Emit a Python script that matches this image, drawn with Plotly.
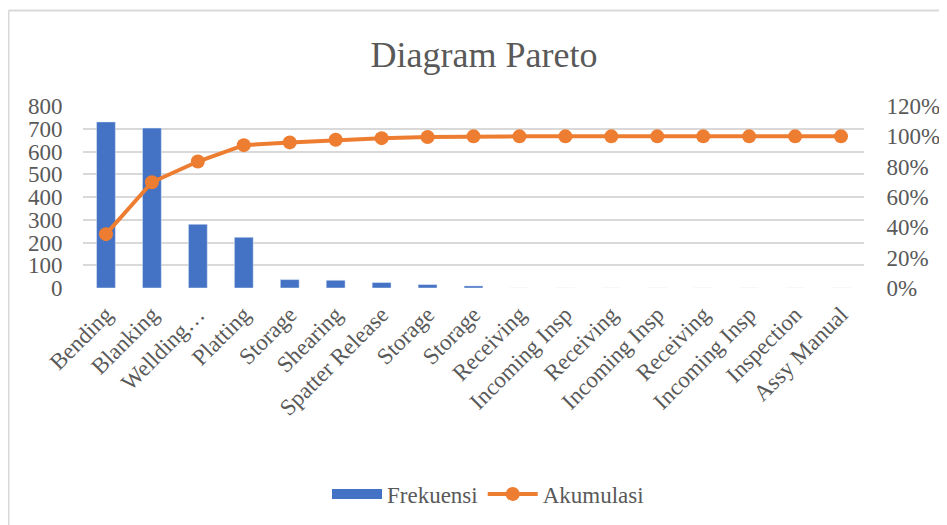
import plotly.graph_objects as go

categories = ["Bending", "Blanking", "Wellding…", "Platting", "Storage", "Shearing",
              "Spatter Release", "Storage", "Storage", "Receiving", "Incoming Insp",
              "Receiving", "Incoming Insp", "Receiving", "Incoming Insp", "Inspection",
              "Assy Manual"]
frekuensi = [730, 703, 280, 223, 37, 34, 24, 15, 9, 0, 0, 0, 0, 0, 0, 0, 0]
akumulasi = [0.355, 0.697, 0.834, 0.942, 0.960, 0.977, 0.988, 0.996, 1.0,
             1.0, 1.0, 1.0, 1.0, 1.0, 1.0, 1.0, 1.0]
left_ticks = [0, 100, 200, 300, 400, 500, 600, 700, 800]
right_ticks = [0, 0.2, 0.4, 0.6, 0.8, 1.0, 1.2]
right_labels = ["0%", "20%", "40%", "60%", "80%", "100%", "120%"]

x = list(range(len(categories)))
FONT = "Liberation Serif, Times New Roman, DejaVu Serif, serif"
GRAY = "#595959"
BLUE = "#4472C4"
ORANGE = "#ED7D31"

W, H = 939, 517
ML, MR, MT, MB = 75, 83, 98, 237
PW = W - ML - MR
PH = H - MT - MB

fig = go.Figure()
fig.add_trace(go.Bar(x=x, y=frekuensi, name="Frekuensi", marker_color=BLUE,
                     width=0.41, yaxis="y", showlegend=False))
# legend entry drawn as a thick line so it looks like the wide rectangle swatch
fig.add_trace(go.Scatter(x=[None], y=[None], name="Frekuensi", mode="lines",
                         line=dict(color=BLUE, width=12), yaxis="y"))
fig.add_trace(go.Scatter(x=x, y=akumulasi, name="Akumulasi", mode="lines+markers",
                         line=dict(color=ORANGE, width=4),
                         marker=dict(color=ORANGE, size=14), yaxis="y2"))

fig.update_layout(
    width=W, height=H,
    margin=dict(l=ML, r=MR, t=MT, b=MB, autoexpand=False),
    paper_bgcolor="white", plot_bgcolor="white",
    font=dict(family=FONT, size=23, color=GRAY),
    title=dict(text="Diagram Pareto", x=476 / W, xanchor="center",
               y=1 - 46 / H, yanchor="middle",
               font=dict(family=FONT, size=36, color=GRAY)),
    xaxis=dict(tickmode="array", tickvals=x, ticktext=categories, tickangle=-45,
               range=[-0.5, len(categories) - 0.5], showgrid=False, zeroline=False,
               showline=False, ticks="outside", ticklen=3, tickcolor="rgba(0,0,0,0)",
               tickfont=dict(family=FONT, size=23, color=GRAY)),
    yaxis=dict(range=[0, 800], tickvals=left_ticks, showgrid=True, gridcolor="#d9d9d9",
               gridwidth=1.5, zeroline=False, showline=False, ticks="outside",
               ticklen=15, tickcolor="rgba(0,0,0,0)",
               tickfont=dict(family=FONT, size=23, color=GRAY)),
    yaxis2=dict(range=[0, 1.2], tickvals=right_ticks, ticktext=right_labels,
                overlaying="y", side="right", showgrid=False, zeroline=False,
                showline=False, ticks="outside", ticklen=17, tickcolor="rgba(0,0,0,0)",
                tickfont=dict(family=FONT, size=23, color=GRAY)),
    legend=dict(orientation="h", x=(488 - 8 - ML) / PW, xanchor="center",
                y=(MT + PH - 486) / PH, yanchor="middle",
                font=dict(family=FONT, size=23, color=GRAY), itemwidth=50,
                traceorder="normal"),
    shapes=[
        dict(type="line", xref="paper", yref="paper",
             x0=(0.5 - ML) / PW, x1=(0.5 - ML) / PW,
             y0=(MT + PH - 2.5) / PH, y1=(MT + PH - H) / PH,
             line=dict(color="#d9d9d9", width=2)),
        dict(type="line", xref="paper", yref="paper",
             x0=(0.5 - ML) / PW, x1=(W - ML) / PW,
             y0=(MT + PH - 2.5) / PH, y1=(MT + PH - 2.5) / PH,
             line=dict(color="#d9d9d9", width=2)),
    ],
)

fig.write_html("out.html")
